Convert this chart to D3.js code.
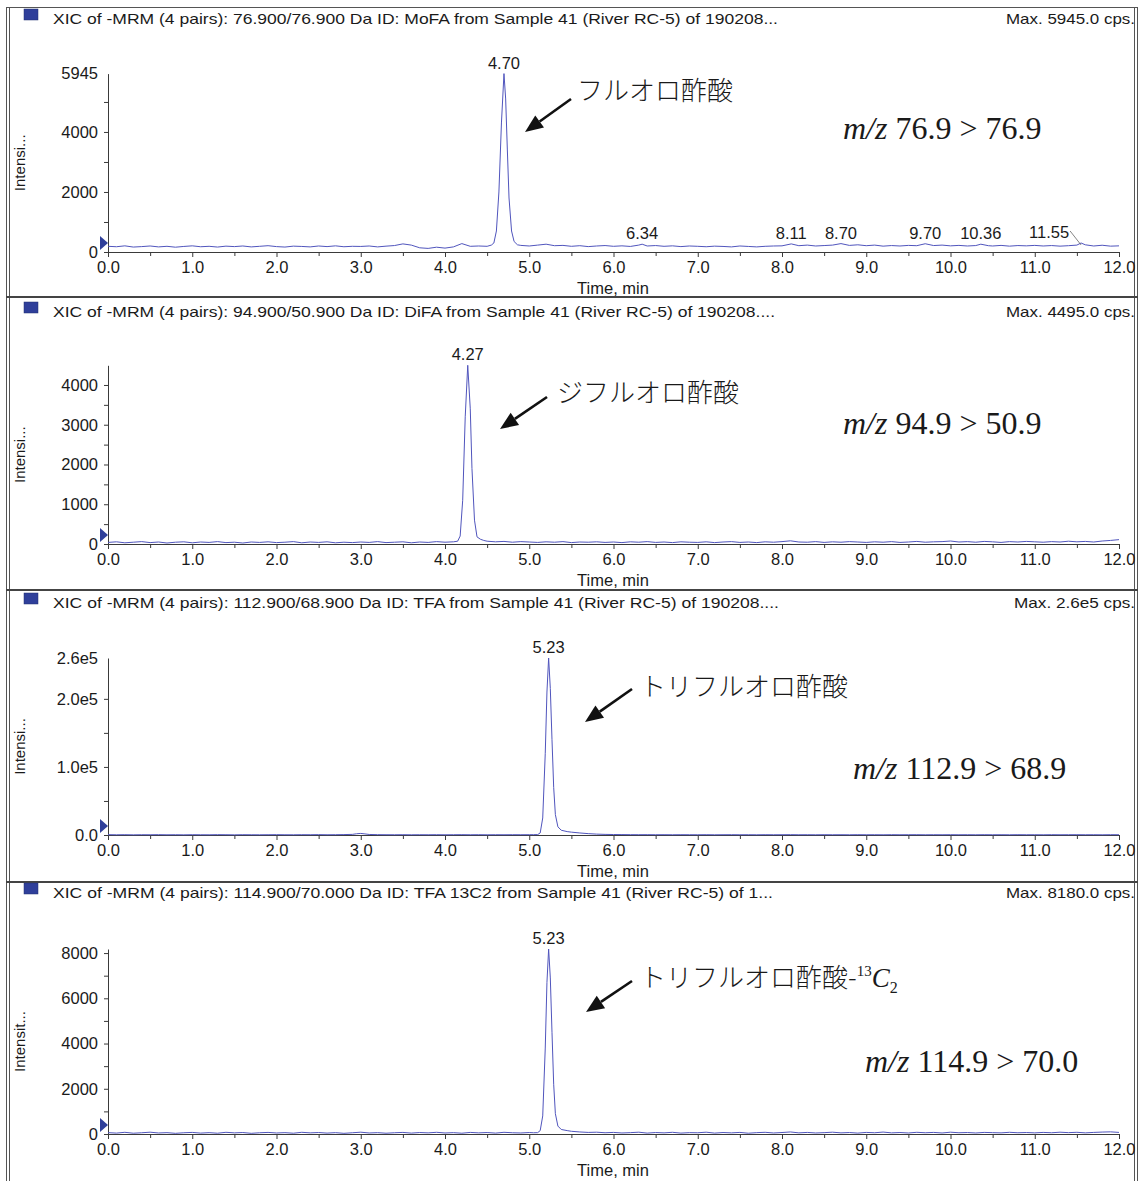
<!DOCTYPE html>
<html>
<head>
<meta charset="utf-8">
<script src="https://cdn.jsdelivr.net/npm/d3@7"></script>
<style>
  body { margin: 0; background: #fff; }
  text { font-family: "Liberation Sans", Arial, sans-serif; fill: #1a1a1a; }
</style>
</head>
<body>
<div id="chart"></div>
<script>
// ---- data: [time (min), intensity (cps)] ----
var traceMoFA = [
  [0.0,190],[0.1,175],[0.2,205],[0.3,165],[0.4,180],[0.5,200],[0.6,170],[0.7,190],[0.8,160],[0.9,185],
  [1.0,205],[1.1,175],[1.2,190],[1.3,165],[1.4,195],[1.5,180],[1.6,200],[1.7,170],[1.8,190],[1.9,210],
  [2.0,180],[2.1,165],[2.2,195],[2.3,185],[2.4,170],[2.5,200],[2.6,180],[2.7,205],[2.8,175],[2.9,190],
  [3.0,185],[3.1,200],[3.2,170],[3.3,195],[3.4,215],[3.5,270],[3.6,230],[3.7,140],[3.8,120],[3.9,160],
  [4.0,130],[4.1,170],[4.2,280],[4.3,190],[4.4,200],[4.5,190],[4.55,230],
  [4.58,300],[4.61,700],[4.64,2000],[4.67,4300],[4.70,5945],[4.72,5100],[4.74,3400],[4.76,1800],
  [4.79,700],[4.82,350],[4.86,240],[4.9,220],
  [5.0,200],[5.1,230],[5.2,260],[5.3,210],[5.4,220],[5.5,190],[5.6,210],[5.7,180],[5.8,200],[5.9,215],
  [6.0,190],[6.1,205],[6.2,185],[6.3,230],[6.34,260],[6.4,200],[6.5,215],[6.6,190],[6.7,205],[6.8,180],[6.9,200],
  [7.0,190],[7.1,175],[7.2,195],[7.3,185],[7.4,170],[7.5,200],[7.6,185],[7.7,170],[7.8,190],[7.9,200],
  [8.0,205],[8.11,270],[8.2,210],[8.3,230],[8.4,200],[8.5,215],[8.6,230],[8.7,280],[8.8,220],[8.9,240],
  [9.0,210],[9.1,230],[9.2,195],[9.3,215],[9.4,200],[9.5,220],[9.6,210],[9.7,275],[9.8,215],[9.9,230],
  [10.0,205],[10.1,220],[10.2,200],[10.3,215],[10.36,260],[10.45,210],[10.5,200],[10.6,220],[10.7,195],[10.8,215],[10.9,205],
  [11.0,220],[11.1,200],[11.2,215],[11.3,195],[11.4,210],[11.5,230],[11.55,300],[11.6,240],[11.7,200],[11.8,225],[11.9,195],[12.0,205]
];
var traceDiFA = [
  [0.0,40],[0.1,55],[0.2,30],[0.3,45],[0.4,60],[0.5,35],[0.6,50],[0.7,25],[0.8,45],[0.9,55],
  [1.0,30],[1.1,50],[1.2,40],[1.3,60],[1.4,35],[1.5,45],[1.6,25],[1.7,50],[1.8,40],[1.9,55],
  [2.0,35],[2.1,45],[2.2,60],[2.3,30],[2.4,50],[2.5,40],[2.6,55],[2.7,30],[2.8,45],[2.9,35],
  [3.0,50],[3.1,40],[3.2,60],[3.3,35],[3.4,45],[3.5,55],[3.6,30],[3.7,50],[3.8,40],[3.9,60],
  [4.0,45],[4.1,55],[4.15,70],[4.18,200],[4.21,1100],[4.24,3200],[4.27,4495],[4.30,3400],[4.32,1900],
  [4.35,600],[4.38,180],[4.42,120],[4.46,90],[4.5,70],
  [4.6,55],[4.7,65],[4.8,45],[4.9,60],[5.0,50],[5.1,40],[5.2,55],[5.3,45],[5.4,60],[5.5,35],[5.6,50],[5.7,45],[5.8,55],[5.9,40],
  [6.0,50],[6.1,35],[6.2,55],[6.3,45],[6.4,60],[6.5,40],[6.6,50],[6.7,35],[6.8,55],[6.9,45],
  [7.0,40],[7.1,55],[7.2,35],[7.3,50],[7.4,60],[7.5,40],[7.6,50],[7.7,35],[7.8,55],[7.9,45],
  [8.0,60],[8.1,80],[8.2,50],[8.3,45],[8.4,60],[8.5,40],[8.6,55],[8.7,45],[8.8,60],[8.9,50],
  [9.0,40],[9.1,55],[9.2,45],[9.3,60],[9.4,40],[9.5,50],[9.6,65],[9.7,45],[9.8,55],[9.9,60],
  [10.0,75],[10.1,50],[10.2,60],[10.3,45],[10.4,65],[10.5,55],[10.6,40],[10.7,60],[10.8,50],[10.9,65],
  [11.0,55],[11.1,45],[11.2,60],[11.3,50],[11.4,70],[11.5,55],[11.6,65],[11.7,50],[11.8,75],[11.9,90],[12.0,110]
];
var traceTFA = [
  [0.0,500],[0.1,300],[0.2,450],[0.3,250],[0.4,400],[0.5,350],[0.6,500],[0.7,300],[0.8,400],[0.9,250],
  [1.0,450],[1.1,350],[1.2,300],[1.3,500],[1.4,400],[1.5,250],[1.6,450],[1.7,350],[1.8,300],[1.9,400],
  [2.0,500],[2.1,350],[2.2,300],[2.3,450],[2.4,400],[2.5,550],[2.6,350],[2.7,450],[2.8,600],[2.9,900],
  [2.95,1800],[3.0,2300],[3.05,1600],[3.1,800],[3.2,500],[3.3,400],[3.4,350],[3.5,450],[3.6,300],[3.7,400],[3.8,350],[3.9,450],
  [4.0,300],[4.1,400],[4.2,500],[4.3,350],[4.4,450],[4.5,300],[4.6,400],[4.7,350],[4.8,450],[4.9,400],[5.0,450],[5.05,500],
  [5.1,600],[5.13,3000],[5.16,25000],[5.19,120000],[5.21,210000],[5.23,260000],[5.25,215000],[5.27,140000],
  [5.29,70000],[5.31,30000],[5.34,12000],[5.38,7000],[5.45,5000],[5.5,4200],[5.6,3000],[5.7,2000],[5.8,1300],[5.9,900],
  [6.0,700],[6.1,600],[6.2,500],[6.3,450],[6.4,500],[6.5,400],[6.6,450],[6.7,350],[6.8,450],[6.9,400],
  [7.0,350],[7.1,450],[7.2,300],[7.3,400],[7.4,450],[7.5,350],[7.6,400],[7.7,300],[7.8,450],[7.9,350],
  [8.0,400],[8.1,500],[8.2,350],[8.3,400],[8.4,300],[8.5,450],[8.6,350],[8.7,400],[8.8,300],[8.9,450],
  [9.0,350],[9.1,400],[9.2,300],[9.3,450],[9.4,350],[9.5,400],[9.6,450],[9.7,300],[9.8,400],[9.9,350],
  [10.0,450],[10.1,350],[10.2,400],[10.3,300],[10.4,450],[10.5,350],[10.6,400],[10.7,300],[10.8,450],[10.9,350],
  [11.0,400],[11.1,300],[11.2,450],[11.3,350],[11.4,400],[11.5,450],[11.6,350],[11.7,400],[11.8,300],[11.9,450],[12.0,400]
];
var traceTFA13C2 = [
  [0.0,60],[0.1,40],[0.2,75],[0.3,35],[0.4,55],[0.5,80],[0.6,45],[0.7,60],[0.8,30],[0.9,55],
  [1.0,70],[1.1,40],[1.2,60],[1.3,35],[1.4,75],[1.5,50],[1.6,65],[1.7,30],[1.8,55],[1.9,70],
  [2.0,45],[2.1,60],[2.2,35],[2.3,75],[2.4,50],[2.5,65],[2.6,40],[2.7,60],[2.8,30],[2.9,55],
  [3.0,80],[3.1,45],[3.2,60],[3.3,35],[3.4,55],[3.5,70],[3.6,40],[3.7,65],[3.8,50],[3.9,75],
  [4.0,45],[4.1,60],[4.2,35],[4.3,70],[4.4,50],[4.5,65],[4.6,40],[4.7,75],[4.8,55],[4.9,45],[5.0,65],[5.05,55],
  [5.1,60],[5.13,150],[5.16,800],[5.19,3800],[5.21,6700],[5.23,8180],[5.25,6900],[5.27,4500],
  [5.29,2200],[5.31,900],[5.34,350],[5.38,200],[5.45,150],[5.5,120],[5.6,90],[5.7,70],[5.8,80],[5.9,55],
  [6.0,70],[6.1,45],[6.2,60],[6.3,80],[6.4,40],[6.5,65],[6.6,50],[6.7,75],[6.8,40],[6.9,60],
  [7.0,55],[7.1,80],[7.2,40],[7.3,65],[7.4,50],[7.5,70],[7.6,35],[7.7,60],[7.8,75],[7.9,45],
  [8.0,65],[8.1,90],[8.2,50],[8.3,70],[8.4,45],[8.5,60],[8.6,80],[8.7,50],[8.8,65],[8.9,40],
  [9.0,70],[9.1,55],[9.2,85],[9.3,50],[9.4,65],[9.5,45],[9.6,75],[9.7,55],[9.8,70],[9.9,45],
  [10.0,80],[10.1,55],[10.2,65],[10.3,45],[10.4,70],[10.5,60],[10.6,50],[10.7,75],[10.8,55],[10.9,65],
  [11.0,50],[11.1,70],[11.2,55],[11.3,80],[11.4,60],[11.5,75],[11.6,50],[11.7,70],[11.8,85],[11.9,95],[12.0,70]
];

// peak labels: [retention time, intensity, text, label position (min)]
var peaksMoFA = [[4.70,5945,"4.70",4.70],[6.34,260,"6.34",6.34],[8.11,270,"8.11",8.11],[8.70,280,"8.70",8.70],
                 [9.70,275,"9.70",9.70],[10.36,260,"10.36",10.36],[11.55,300,"11.55",11.17]];
var peaksDiFA = [[4.27,4495,"4.27",4.27]];
var peaksTFA = [[5.23,260000,"5.23",5.23]];
var peaksTFA13C2 = [[5.23,8180,"5.23",5.23]];

var headers = [
  "XIC of -MRM (4 pairs): 76.900/76.900 Da ID: MoFA from Sample 41 (River RC-5) of 190208...",
  "XIC of -MRM (4 pairs): 94.900/50.900 Da ID: DiFA from Sample 41 (River RC-5) of 190208....",
  "XIC of -MRM (4 pairs): 112.900/68.900 Da ID: TFA from Sample 41 (River RC-5) of 190208....",
  "XIC of -MRM (4 pairs): 114.900/70.000 Da ID: TFA 13C2 from Sample 41 (River RC-5) of 1..."
];
var maxLabels = ["Max. 5945.0 cps.", "Max. 4495.0 cps.", "Max. 2.6e5 cps.", "Max. 8180.0 cps."];
var yMax = [5945, 4495, 260000, 8180];
var yTicks = [[0,2000,4000,5945], [0,1000,2000,3000,4000], [0,100000,200000,260000], [0,2000,4000,6000,8000]];
var yMinor = [[1000,3000,5000], [500,1500,2500,3500], [50000,150000], [1000,3000,5000,7000]];
var yLabels = ["Intensi...", "Intensi...", "Intensi...", "Intensit..."];
var compounds = ["フルオロ酢酸", "ジフルオロ酢酸", "トリフルオロ酢酸", "トリフルオロ酢酸-"];
var transitions = [" 76.9 > 76.9", " 94.9 > 50.9", " 112.9 > 68.9", " 114.9 > 70.0"];
var xTicks = d3.range(0, 12.001, 1);
var xMinor = d3.range(0.5, 12, 1);

var traces = [traceMoFA, traceDiFA, traceTFA, traceTFA13C2];
var peaks = [peaksMoFA, peaksDiFA, peaksTFA, peaksTFA13C2];

// ---- layout ----
var W = 1143, H = 1181;
var layout = [
  {head: 18, zero: 252, top: 73.6, sep: 297, arrow: [571,99,525,132], jp: [577,100], mz: [843,139]},
  {head: 311, zero: 544, top: 365.3, sep: 590, arrow: [547,397,500,429], jp: [557,402], mz: [843,434]},
  {head: 602, zero: 835, top: 658, sep: 882, arrow: [632,689,585,722], jp: [640,696], mz: [853,779]},
  {head: 892, zero: 1134, top: 949, sep: null, arrow: [632,981,586,1012], jp: [640,987], mz: [865,1072]}
];
var headLen = [725, 722, 726, 720];
var maxLen = [129, 129, 121, 129];

var svg = d3.select("#chart").append("svg").attr("width", W).attr("height", H);

// frame
var frameCol = "#555";
svg.append("line").attr("x1",6.5).attr("x2",6.5).attr("y1",7).attr("y2",H).attr("stroke",frameCol);
svg.append("line").attr("x1",9.5).attr("x2",9.5).attr("y1",7).attr("y2",H).attr("stroke",frameCol);
svg.append("line").attr("x1",1134.5).attr("x2",1134.5).attr("y1",7).attr("y2",H).attr("stroke",frameCol);
svg.append("line").attr("x1",1137.5).attr("x2",1137.5).attr("y1",7).attr("y2",H).attr("stroke",frameCol);
svg.append("line").attr("x1",6).attr("x2",1138).attr("y1",7.5).attr("y2",7.5).attr("stroke",frameCol);

var x = d3.scaleLinear().domain([0, 12]).range([108, 1119]);
var lineCol = "#5055bd";

function arrow(g, a) {
  var ang = Math.atan2(a[3]-a[1], a[2]-a[0]), L = 18, w = 7.5;
  var bx = a[2] - L*Math.cos(ang), by = a[3] - L*Math.sin(ang);
  g.append("line").attr("x1",a[0]).attr("y1",a[1]).attr("x2",bx).attr("y2",by)
    .attr("stroke","#111").attr("stroke-width",2.6);
  g.append("path").attr("fill","#111")
    .attr("d","M"+a[2]+","+a[3]+"L"+(bx+w*Math.sin(ang))+","+(by-w*Math.cos(ang))+
              "L"+(bx-w*Math.sin(ang))+","+(by+w*Math.cos(ang))+"Z");
}

layout.forEach(function(p, i) {
  var g = svg.append("g");
  var y = d3.scaleLinear().domain([0, yMax[i]]).range([p.zero, p.top]);

  // separator
  if (p.sep) g.append("line").attr("x1",6).attr("x2",1138).attr("y1",p.sep).attr("y2",p.sep)
    .attr("stroke","#444").attr("stroke-width",2);

  // header
  g.append("rect").attr("x",24).attr("y",p.head-9).attr("width",14).attr("height",11)
    .attr("fill","#2f3f9a").attr("stroke","#22306f").attr("stroke-width",0.5);
  g.append("text").attr("x",53).attr("y",p.head+5.5).style("font-size","15px")
    .attr("textLength",headLen[i]).attr("lengthAdjust","spacingAndGlyphs").text(headers[i]);
  g.append("text").attr("x",1135).attr("y",p.head+5.5).attr("text-anchor","end").style("font-size","15px")
    .attr("textLength",maxLen[i]).attr("lengthAdjust","spacingAndGlyphs").text(maxLabels[i]);

  // axes
  var fmtY = i === 2 ? function(d){ return d === 0 ? "0.0" : d3.format(".1e")(d).replace("e+","e"); } : d3.format("d");
  var ya = g.append("g").attr("transform","translate(108,0)")
    .call(d3.axisLeft(y).tickValues(yTicks[i]).tickFormat(fmtY).tickSize(4).tickSizeOuter(0).tickPadding(6));
  ya.selectAll(".tick").filter(function(d){ return d === yMax[i]; }).select("line").remove();
  g.append("g").attr("transform","translate(108,0)")
    .call(d3.axisLeft(y).tickValues(yMinor[i]).tickFormat("").tickSize(4).tickSizeOuter(0))
    .select(".domain").remove();
  g.append("g").attr("transform","translate(0,"+p.zero+")")
    .call(d3.axisBottom(x).tickValues(xTicks).tickFormat(d3.format(".1f")).tickSize(5).tickSizeOuter(0).tickPadding(4));
  g.append("g").attr("transform","translate(0,"+p.zero+")")
    .call(d3.axisBottom(x).tickValues(xMinor).tickFormat("").tickSize(4).tickSizeOuter(0))
    .select(".domain").remove();
  g.selectAll(".domain, .tick line").attr("stroke","#3a3a3a");
  g.selectAll(".tick text").style("font-size","16.5px").style("font-family","'Liberation Sans', Arial, sans-serif").attr("fill","#1a1a1a");

  g.append("text").attr("x",613).attr("y",p.zero+42).attr("text-anchor","middle")
    .style("font-size","16.5px").text("Time, min");
  g.append("text").attr("transform","translate(25,"+((p.zero+p.top)/2)+") rotate(-90)")
    .attr("text-anchor","middle").style("font-size","15px").text(yLabels[i]);

  // start marker
  g.append("path").attr("fill","#2f3f9a")
    .attr("d","M100,"+(p.zero-16)+"L108,"+(p.zero-9)+"L100,"+(p.zero-2)+"Z");

  // trace
  var line = d3.line().x(function(d){ return x(d[0]); }).y(function(d){ return y(d[1]); });
  g.append("path").datum(traces[i]).attr("d", line)
    .attr("fill","none").attr("stroke",lineCol).attr("stroke-width",1);

  // peak labels
  peaks[i].forEach(function(pk) {
    var lx = x(pk[3]), ly = y(pk[1]) - 5;
    var t = g.append("text").attr("x",lx).attr("y",ly).attr("text-anchor","middle")
      .style("font-size","16.5px").text(pk[2]);
    if (pk[3] !== pk[0]) {
      var bb = t.node().getBBox();
      g.append("line").attr("x1",bb.x+bb.width+1).attr("y1",ly-7).attr("x2",x(pk[0])).attr("y2",y(pk[1])+2)
        .attr("stroke","#666").attr("stroke-width",0.8);
    }
  });

  // annotations
  arrow(g, p.arrow);
  var jt = g.append("text").attr("x",p.jp[0]).attr("y",p.jp[1])
    .style("font-family","'Noto Sans CJK JP', sans-serif").style("font-size","26px").style("font-weight","300")
    .text(compounds[i]);
  if (i === 3) {
    jt.append("tspan").attr("dy",-11).style("font-family","'Liberation Serif', serif").style("font-size","15px").text("13");
    jt.append("tspan").attr("dy",11).style("font-family","'Liberation Serif', serif").style("font-style","italic").style("font-size","27px").text("C");
    jt.append("tspan").attr("dy",6).style("font-family","'Liberation Serif', serif").style("font-size","16px").text("2");
  }
  var mz = g.append("text").attr("x",p.mz[0]).attr("y",p.mz[1])
    .style("font-family","'Liberation Serif', 'Times New Roman', serif").style("font-size","32px");
  mz.append("tspan").style("font-style","italic").text("m/z");
  mz.append("tspan").text(transitions[i]);
});
</script>
</body>
</html>
